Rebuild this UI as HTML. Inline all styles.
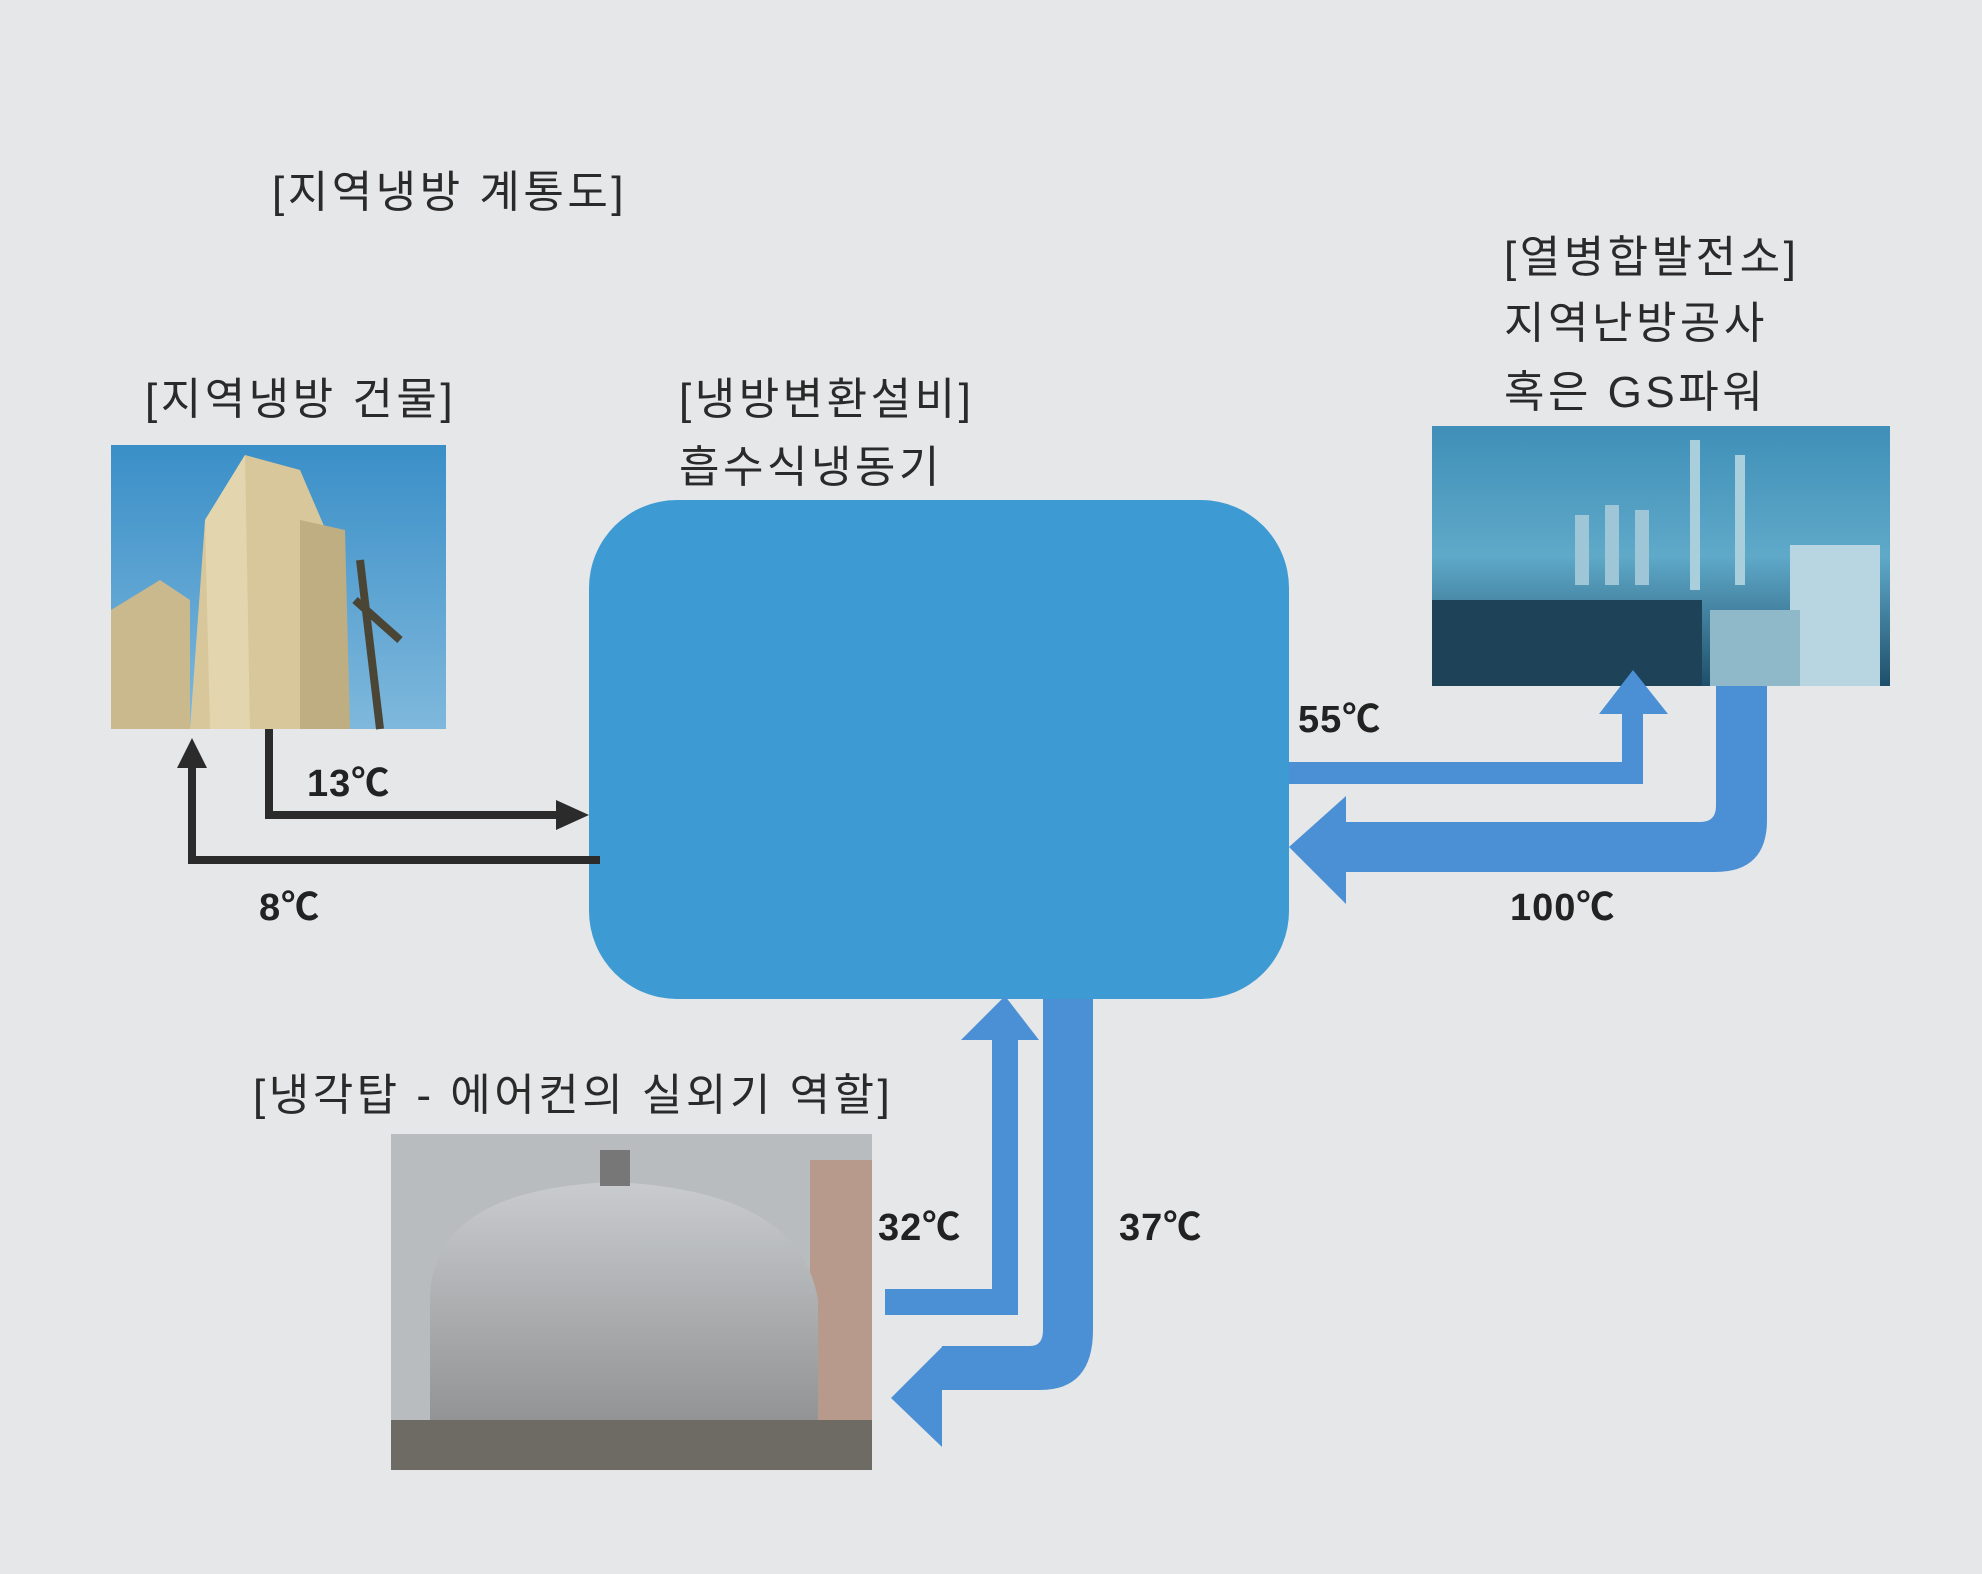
<!DOCTYPE html>
<html><head><meta charset="utf-8"><style>
html,body{margin:0;padding:0;background:#e6e7e9;}
svg{display:block}
text{font-family:"Liberation Sans","Noto Sans CJK KR",sans-serif;fill:#2a2a2a}
.k{font-size:44px;letter-spacing:3.5px}
.t{font-size:38px;font-weight:bold;fill:#222;letter-spacing:1px}
</style></head><body>
<svg width="1982" height="1574" viewBox="0 0 1982 1574" xmlns="http://www.w3.org/2000/svg">
<defs>
<linearGradient id="sky" x1="0" y1="0" x2="0" y2="1"><stop offset="0" stop-color="#3a8fc8"/><stop offset="1" stop-color="#7fb8dc"/></linearGradient>
<linearGradient id="plant" x1="0" y1="0" x2="0" y2="1"><stop offset="0" stop-color="#3f8fb8"/><stop offset="0.5" stop-color="#5fa9c9"/><stop offset="1" stop-color="#1f4f6a"/></linearGradient>
<linearGradient id="tw" x1="0" y1="0" x2="0" y2="1"><stop offset="0" stop-color="#c9ccce"/><stop offset="1" stop-color="#8d8f90"/></linearGradient>
</defs>
<rect width="1982" height="1574" fill="#e6e7e9"/>
<text class="k" x="272" y="207">[지역냉방 계통도]</text>
<text class="k" x="145" y="414">[지역냉방 건물]</text>
<text class="k" x="679" y="414">[냉방변환설비]</text>
<text class="k" x="679" y="482">흡수식냉동기</text>
<text class="k" x="1504" y="272">[열병합발전소]</text>
<text class="k" x="1504" y="338">지역난방공사</text>
<text class="k" x="1504" y="407">혹은 GS파워</text>
<text class="k" x="253" y="1110">[냉각탑 - 에어컨의 실외기 역할]</text>

<rect x="111" y="445" width="335" height="284" fill="url(#sky)"/>
<polygon points="190,729 205,520 245,455 300,470 330,540 340,729" fill="#d8c79a"/>
<polygon points="111,729 111,610 160,580 190,600 190,729" fill="#c9b98c"/>
<polygon points="300,520 345,530 350,729 300,729" fill="#bfae82"/>
<polygon points="205,520 245,455 250,729 210,729" fill="#e3d6ae"/>
<path d="M360 560 L380 729 M355 600 L400 640" stroke="#4a4535" stroke-width="8"/>

<rect x="1432" y="426" width="458" height="260" fill="url(#plant)"/>
<rect x="1575" y="515" width="14" height="70" fill="#9fc6d6"/>
<rect x="1605" y="505" width="14" height="80" fill="#9fc6d6"/>
<rect x="1635" y="510" width="14" height="75" fill="#9fc6d6"/>
<rect x="1690" y="440" width="10" height="150" fill="#a9cfdc"/>
<rect x="1735" y="455" width="10" height="130" fill="#a9cfdc"/>
<rect x="1790" y="545" width="90" height="141" fill="#b7d6e2"/>
<rect x="1710" y="610" width="90" height="76" fill="#8fb8c8"/>
<rect x="1432" y="600" width="270" height="86" fill="#1e4358"/>

<rect x="391" y="1134" width="481" height="336" fill="#b9bcbe"/>
<rect x="810" y="1160" width="62" height="310" fill="#b89a8c"/>
<path d="M430 1300 Q430 1190 612 1182 Q800 1190 818 1300 L818 1440 L430 1440 Z" fill="url(#tw)"/>
<rect x="600" y="1150" width="30" height="36" fill="#777"/>
<rect x="391" y="1420" width="481" height="50" fill="#6e6a64"/>

<rect x="589" y="500" width="700" height="499" rx="88" fill="#3d9ad2"/>

<g stroke="#2b2b2b" stroke-width="8" fill="none">
<polyline points="269,729 269,815 560,815"/>
<polyline points="600,860 192,860 192,760"/>
</g>
<polygon points="589,815 556,800 556,830" fill="#2b2b2b"/>
<polygon points="192,738 177,768 207,768" fill="#2b2b2b"/>

<g fill="#4b90d4">
<polygon points="1289,762 1622,762 1622,714 1599,714 1633,670 1668,714 1643,714 1643,784 1289,784"/>
<path d="M1716 686 L1767 686 L1767 820 Q1767 872 1715 872 L1346 872 L1346 904 L1289 847 L1346 796 L1346 822 L1700 822 Q1716 822 1716 806 Z"/>
<polygon points="885,1289 992,1289 992,1040 961,1040 1005,996 1039,1040 1018,1040 1018,1315 885,1315"/>
<path d="M1043 999 L1093 999 L1093 1330 Q1093 1390 1040 1390 L942 1390 L942 1447 L891 1398 L942 1347 L942 1346 L1030 1346 Q1043 1346 1043 1330 Z"/>
</g>

<text class="t" x="307" y="796">13℃</text>
<text class="t" x="259" y="920">8℃</text>
<text class="t" x="1298" y="732">55℃</text>
<text class="t" x="1510" y="920">100℃</text>
<text class="t" x="878" y="1240">32℃</text>
<text class="t" x="1119" y="1240">37℃</text>
</svg>
</body></html>
